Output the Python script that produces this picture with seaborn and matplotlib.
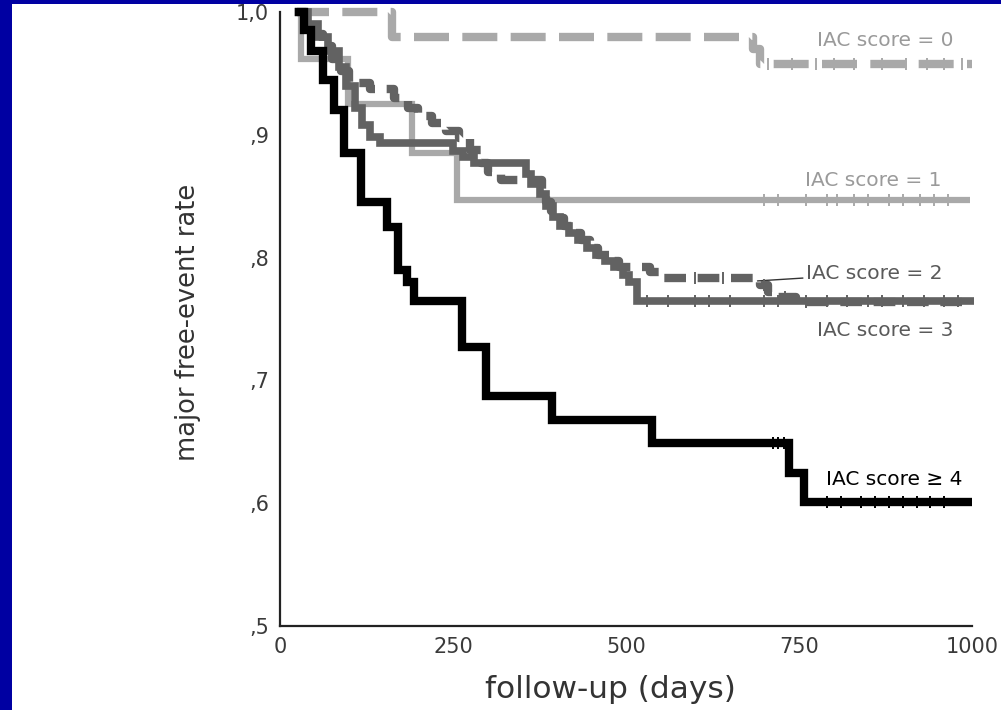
import numpy as np
import pandas as pd
import matplotlib
matplotlib.use("Agg")
import matplotlib.pyplot as plt
from matplotlib.patches import Rectangle
import seaborn as sns

# ---------------- data ----------------
days0 = [20, 162, 683, 693, 1000]
surv0 = [1.0, 0.98, 0.97, 0.958, 0.958]
cens0 = [705, 740, 775, 800, 830, 870, 905, 935, 960, 985]

days1 = [25, 30, 98, 191, 256, 997]
surv1 = [1.0, 0.962, 0.925, 0.885, 0.847, 0.847]
cens1 = [700, 720, 760, 790, 805, 830, 850, 880, 900, 925, 945, 965]

days2 = [25, 38, 50, 62, 75, 88, 100, 130, 165, 185, 200, 220, 240, 258,
         275, 290, 300, 320, 378, 385, 392, 400, 410, 422, 435, 448, 460,
         475, 490, 535, 555, 693, 705, 718, 745, 1000]
surv2 = [1.0, 0.99, 0.982, 0.972, 0.962, 0.952, 0.942, 0.937, 0.93, 0.922,
         0.915, 0.91, 0.903, 0.897, 0.888, 0.877, 0.87, 0.863, 0.852, 0.845,
         0.838, 0.832, 0.826, 0.82, 0.814, 0.808, 0.802, 0.797, 0.792, 0.788,
         0.783, 0.778, 0.772, 0.768, 0.764, 0.764]
cens2 = [600, 640, 700, 730, 760]

days3 = [25, 40, 55, 70, 85, 95, 108, 118, 130, 144, 250, 265, 280, 355,
         362, 375, 385, 395, 405, 418, 430, 443, 456, 470, 483, 495, 505,
         516, 1003]
surv3 = [1.0, 0.99, 0.98, 0.968, 0.955, 0.94, 0.922, 0.908, 0.898, 0.893,
         0.887, 0.882, 0.877, 0.868, 0.86, 0.852, 0.842, 0.833, 0.826, 0.82,
         0.814, 0.808, 0.802, 0.797, 0.792, 0.786, 0.78, 0.765, 0.765]
cens3 = [530, 560, 600, 620, 650, 700, 720, 760, 790, 820, 850, 870, 900,
         930, 960, 980]

days4 = [22, 35, 45, 62, 78, 93, 117, 155, 170, 183, 194, 263, 297, 393, 537,
         735, 757, 1000]
surv4 = [1.0, 0.985, 0.968, 0.945, 0.92, 0.885, 0.845, 0.825, 0.79, 0.78,
         0.765, 0.727, 0.687, 0.668, 0.649, 0.625, 0.601, 0.601]
cens4 = [712, 720, 728, 790, 810, 840, 860, 880, 900, 920, 940, 960]

labels = ["IAC score = 0", "IAC score = 1", "IAC score = 2", "IAC score = 3",
          "IAC score \u2265 4"]
yticks = [0.5, 0.6, 0.7, 0.8, 0.9, 1.0]
yticklabels = [",5", ",6", ",7", ",8", ",9", "1,0"]
xticks = [0, 250, 500, 750, 1000]
xticklabels = ["0", "250", "500", "750", "1000"]

# ---------------- styling ----------------
sns.set_style("white")
plt.rcParams["font.family"] = ["DejaVu Sans"]

LIGHT = "#a9a9a9"
DARK = "#626262"
BLACK = "#000000"

series = [
    dict(d=days0, s=surv0, c=cens0, color=LIGHT, lw=6.0, dash=[4.2, 1.6], z=2),
    dict(d=days1, s=surv1, c=cens1, color=LIGHT, lw=4.5, dash=None, z=3),
    dict(d=days2, s=surv2, c=cens2, color=DARK, lw=6.0, dash=[2.6, 1.4], z=4),
    dict(d=days3, s=surv3, c=cens3, color=DARK, lw=5.5, dash=None, z=4),
    dict(d=days4, s=surv4, c=cens4, color=BLACK, lw=6.0, dash=None, z=5),
]

fig = plt.figure(figsize=(10.01, 7.10), dpi=100)
fig.patch.set_facecolor("#0000a2")
fig.patches.append(Rectangle((12 / 1001, 0), 1, (710 - 4) / 710,
                             transform=fig.transFigure, facecolor="white",
                             edgecolor="none", zorder=-10))

ax = fig.add_axes([280 / 1001, 1 - 626 / 710, (972 - 280) / 1001, (626 - 12) / 710])
ax.set_facecolor("none")

for sr in series:
    df = pd.DataFrame({"day": sr["d"], "rate": sr["s"]})
    n_before = len(ax.lines)
    sns.lineplot(data=df, x="day", y="rate", ax=ax, color=sr["color"],
                 linewidth=sr["lw"], drawstyle="steps-post", estimator=None,
                 sort=False, zorder=sr["z"])
    line = ax.lines[n_before]
    line.set_clip_on(False)
    line.set_solid_capstyle("butt")
    line.set_solid_joinstyle("miter")
    if sr["dash"] is not None:
        line.set_dashes(sr["dash"])
        line.set_dash_capstyle("butt")
    # censor marks
    d = np.array(sr["d"])
    s = np.array(sr["s"])
    cy = [s[np.searchsorted(d, t, side="right") - 1] for t in sr["c"]]
    ax.plot(sr["c"], cy, linestyle="none", marker="|", markersize=9,
            markeredgewidth=1.4, color=sr["color"], zorder=sr["z"],
            clip_on=False)

ax.set_xlim(0, 1000)
ax.set_ylim(0.5, 1.0)
ax.set_xticks(xticks)
ax.set_xticklabels(xticklabels)
ax.set_yticks(yticks)
ax.set_yticklabels(yticklabels)
for sp in ["top", "right"]:
    ax.spines[sp].set_visible(False)
for sp in ["left", "bottom"]:
    ax.spines[sp].set_color("#222222")
    ax.spines[sp].set_linewidth(1.6)
ax.tick_params(axis="both", direction="out", length=3, width=2.5,
               colors="#222222", labelcolor="#3a3a3a", labelsize=15, pad=5)

ax.set_xlabel("follow-up (days)", fontsize=22.5, color="#333333")
ax.xaxis.set_label_coords((610 - 280) / 692, -(690 - 626) / 614, transform=ax.transAxes)
ax.xaxis.label.set_va("center")
ax.set_ylabel("major free-event rate", fontsize=18.5, color="#333333")
ax.yaxis.set_label_coords(-(280 - 188) / 692, (626 - 322) / 614, transform=ax.transAxes)
ax.yaxis.label.set_va("center")

# curve labels
txt_kw = dict(ha="center", va="center", fontsize=14.5)
ax.text(874, 0.977, labels[0], color="#9a9a9a", **txt_kw)
ax.text(857, 0.863, labels[1], color="#9a9a9a", **txt_kw)
ax.annotate(labels[2], xy=(690, 0.781), xytext=(859, 0.787), color="#5a5a5a",
            arrowprops=dict(arrowstyle="-", color="#333333", lw=1.0,
                            shrinkA=0, shrinkB=0), **txt_kw)
ax.text(875, 0.741, labels[3], color="#5a5a5a", **txt_kw)
ax.text(888, 0.619, labels[4], color="#000000", **txt_kw)

fig.savefig("out.png", dpi=100, facecolor=fig.get_facecolor())
